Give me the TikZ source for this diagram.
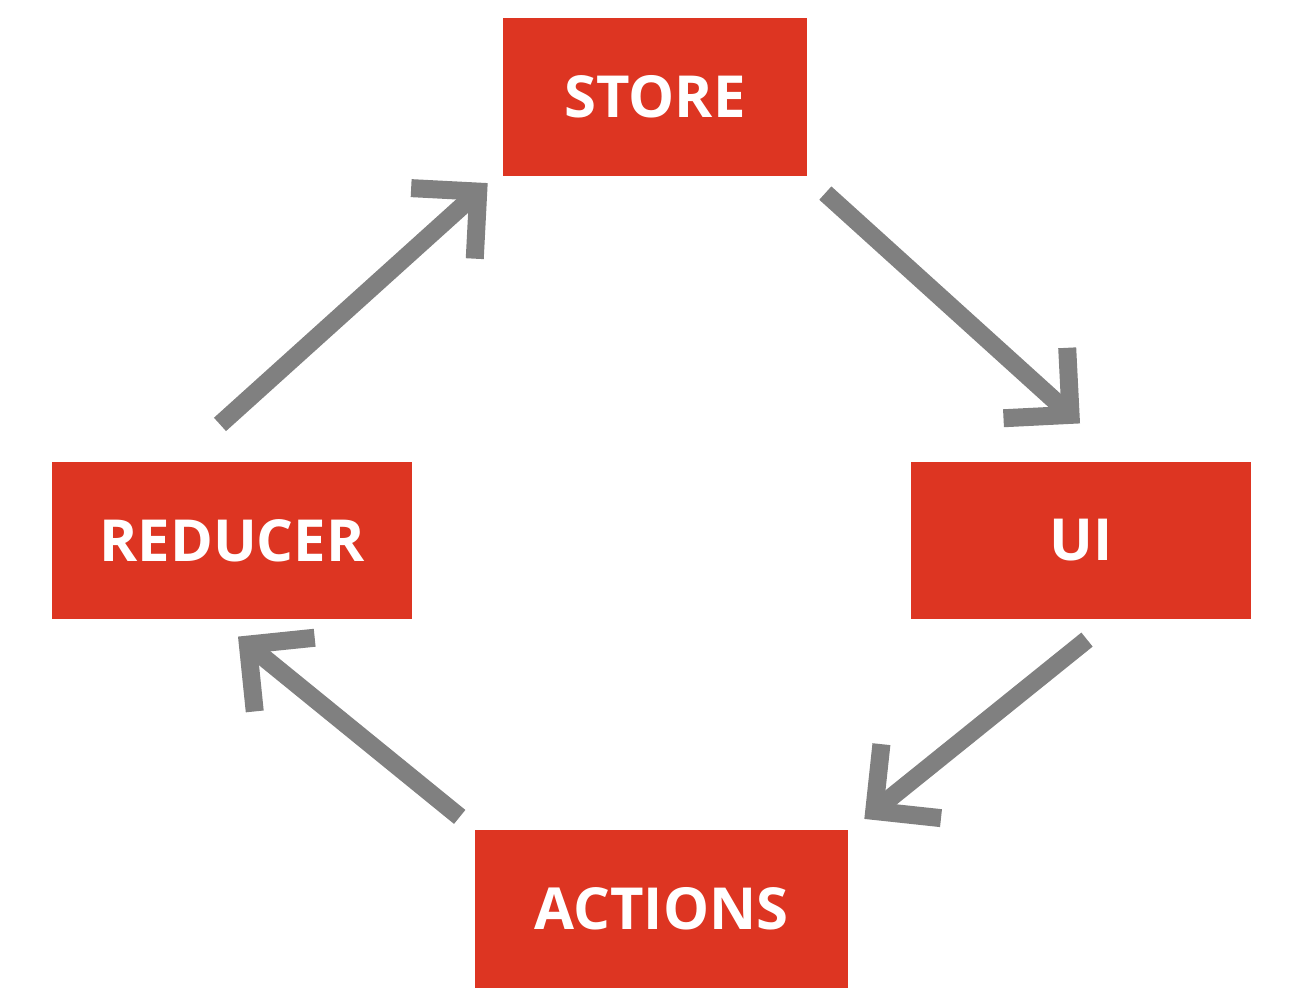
\documentclass[tikz,border=0pt]{standalone}
\usepackage{fontspec}
\setmainfont{Open Sans}
\usetikzlibrary{positioning, arrows.meta, calc}

\definecolor{boxred}{HTML}{DD3522}
\definecolor{flowgray}{HTML}{808080}

\begin{document}
\begin{tikzpicture}[
    x = 0.02cm, y = -0.02cm,
    stage/.style={rectangle, fill=boxred, text=white, inner sep=0pt,
        minimum height=3.15cm, font=\fontsize{33}{33}\selectfont\bfseries},
    flow/.style={draw=flowgray, line width=0.36cm, line cap=butt,
        -{Straight Barb[sharp, length=0.95cm, width=1.9cm]}}
]
\useasboundingbox (0,0) rectangle (1301,1000);

% --- the four stages ---
\node[stage, minimum width=6.08cm] (store) at (655,97) {STORE};
\node[stage, minimum width=6.8cm] (ui) at (1081,540.5) {UI};
\node[stage, minimum width=7.46cm] (actions) at (661.5,909) {ACTIONS};
\node[stage, minimum width=7.2cm] (reducer) at (232,540.5) {REDUCER};

% --- ends of the connectors ---
\coordinate (storeout) at ($(store.south east)+(18,17)$);
\coordinate (uiin) at ($(ui.north)+(-1,-38)$);
\coordinate (uiout) at ($(ui.south)+(6,20)$);
\coordinate (actionsin) at ($(actions.north east)+(16,-11)$);
\coordinate (actionsout) at ($(actions.north west)+(-15,-13)$);
\coordinate (reducerin) at ($(reducer.south)+(6,17)$);
\coordinate (reducerout) at ($(reducer.north)+(-12,-37)$);
\coordinate (storein) at ($(store.south west)+(-15,7)$);

% --- the cycle ---
\draw[flow] (storeout) -- (uiin);
\draw[flow] (uiout) -- (actionsin);
\draw[flow] (actionsout) -- (reducerin);
\draw[flow] (reducerout) -- (storein);

\end{tikzpicture}
\end{document}
